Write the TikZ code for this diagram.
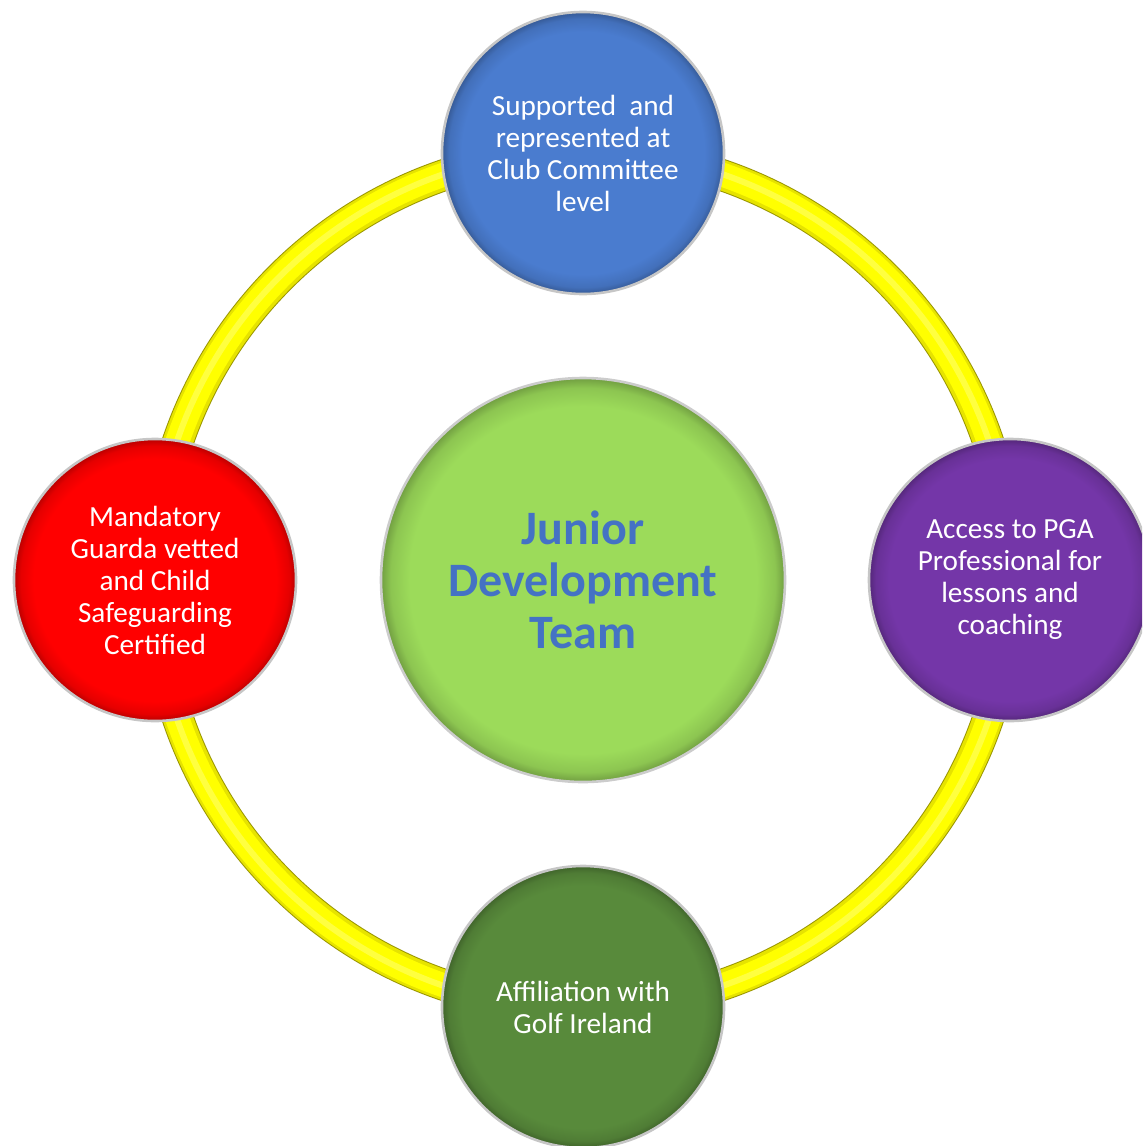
\documentclass[tikz,border=0pt]{standalone}
\usepackage{fontspec}
\setmainfont{Carlito}
\definecolor{cblue}{HTML}{4A7CCF}
\definecolor{cred}{HTML}{FF0000}
\definecolor{cpurple}{HTML}{7436A8}
\definecolor{cgreen}{HTML}{588A3B}
\definecolor{clight}{HTML}{9CDB5A}
\definecolor{ctext}{HTML}{4472C4}
\definecolor{ringy}{HTML}{FFFF00}
\definecolor{ringdark}{HTML}{9A9600}
\definecolor{ringmid}{HTML}{E6E300}
\colorlet{discc}{red}
\pgfdeclareradialshading[discc]{bevel}{\pgfpoint{0bp}{0bp}}{%
  color(0bp)=(discc); color(21.5bp)=(discc); color(23.8bp)=(discc!90!black);
  color(25bp)=(discc!72!black); color(50bp)=(discc!72!black)}
\tikzset{
  disc/.style={circle, draw=gray!45, line width=1.3pt,
    /utils/exec={\colorlet{discc}{#1}}, shading=bevel,
    minimum size=141pt, inner sep=0pt, align=center, text=white,
    font=\fontsize{14.6}{16}\selectfont},
  hub/.style={circle, draw=gray!40, line width=1.3pt,
    /utils/exec={\colorlet{discc}{clight}}, shading=bevel,
    minimum size=202pt, inner sep=0pt, align=center, text=ctext,
    font=\fontsize{24}{26}\selectfont\bfseries},
}
\begin{document}
\begin{tikzpicture}[x=0.5pt,y=-0.5pt]
\useasboundingbox (0,0) rectangle (1142,1146);
\clip (0,0) rectangle (1142,1146);
\coordinate (o) at (583,580);
% ring (tube)
\draw[ringdark, line width=16pt] (o) circle[radius=428];
\draw[ringmid, line width=15pt] (o) circle[radius=428];
\draw[ringy, line width=12pt] (o) circle[radius=428.5];
\draw[white, opacity=0.25, line width=3pt] (o) circle[radius=429];
% discs
\node[hub] (hub) at (o) {Junior\\Development\\Team};
\node[disc=cblue] (top) at (583,153) {Supported\ \ and\\represented at\\Club Committee\\level};
\node[disc=cred] (left) at (155,580) {Mandatory\\Guarda vetted\\and Child\\Safeguarding\\Certified};
\node[disc=cpurple] (right) at (1010,580) {Access to PGA\\Professional for\\lessons and\\coaching};
\node[disc=cgreen] (bottom) at (583,1007) {Affiliation with\\Golf Ireland};
\end{tikzpicture}
\end{document}
